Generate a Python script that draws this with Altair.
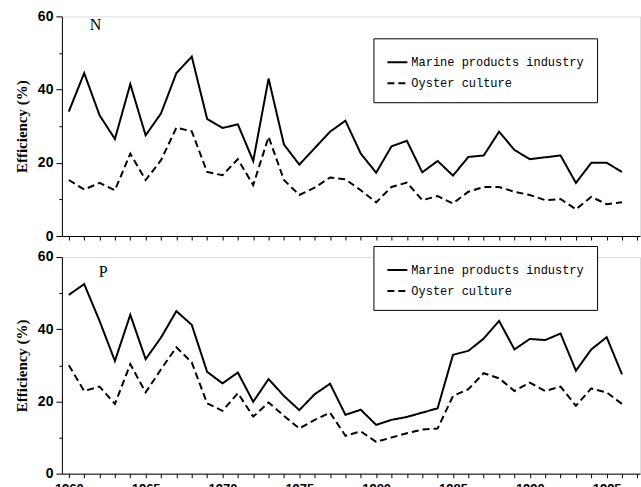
import altair as alt
import pandas as pd

years = list(range(1960, 1997))
series_names = ["Marine products industry", "Oyster culture"]

n_marine = [34, 44.5, 33, 26.5, 41.5, 27.5, 33.5, 44.5, 49, 32, 29.5, 30.5, 20.5, 43, 25, 19.5,
            24, 28.5, 31.5, 22.5, 17.3, 24.5, 26, 17.4, 20.5, 16.5, 21.6, 22, 28.5, 23.5, 21,
            21.5, 22, 14.5, 20, 20, 17.5]
n_oyster = [15.3, 12.7, 14.5, 12.5, 22.5, 15.3, 20.7, 29.6, 28.6, 17.5, 16.6, 21, 13.9, 27.1,
            15.3, 11.2, 13.2, 16, 15.5, 12.5, 9.2, 13.4, 14.6, 9.8, 10.9, 8.9, 12.1, 13.4, 13.4,
            12.1, 11.2, 9.8, 10.1, 7.3, 10.7, 8.7, 9.2]
p_marine = [49.5, 52.5, 42.3, 31.2, 44, 31.7, 37.7, 45, 41.2, 28.2, 25, 28, 19.9, 26.2, 21.5,
            17.6, 22, 24.9, 16.3, 17.7, 13.5, 14.9, 15.7, 16.9, 18.1, 32.9, 34, 37.4, 42.3, 34.4,
            37.3, 37, 38.8, 28.5, 34.4, 37.8, 27.5]
p_oyster = [30, 22.9, 24.1, 19.3, 30.3, 22.5, 28.9, 35, 30.8, 19.5, 17.4, 22.3, 15.8, 19.7, 16,
            12.5, 14.9, 16.9, 10.5, 11.7, 8.8, 10, 11.2, 12.2, 12.5, 21.5, 23.4, 27.8, 26.4, 22.9,
            25.2, 22.9, 24.1, 18.8, 23.6, 22.5, 19.3]

x_tick_values = list(range(1960, 1998))
y_tick_values = [0, 10, 20, 30, 40, 50, 60]


def panel_df(marine, oyster):
    rows = []
    for yr, m, o in zip(years, marine, oyster):
        rows.append({"year": yr, "value": m, "series": series_names[0]})
        rows.append({"year": yr, "value": o, "series": series_names[1]})
    return pd.DataFrame(rows)


def panel(df, label, show_x_labels, height, legend_y, label_x, label_y):
    x_axis = alt.Axis(
        values=x_tick_values,
        labelExpr="datum.value % 5 == 0 ? toString(datum.value) : ''",
        labels=show_x_labels,
        labelOverlap=False,
        labelFlush=False,
        grid=False,
        title=None,
        tickSize=4,
        tickColor="black",
        domainColor="black",
        labelFont="Liberation Sans",
        labelFontSize=13,
        labelFontWeight="bold",
        labelColor="black",
        labelPadding=5,
    )
    y_axis = alt.Axis(
        values=y_tick_values,
        labelExpr="datum.value % 20 == 0 ? toString(datum.value) : ''",
        labelOverlap=False,
        grid=False,
        title="Efficiency (%)",
        titleFont="Liberation Serif",
        titleFontSize=15,
        titleFontWeight="bold",
        titleColor="black",
        titlePadding=8,
        labelFont="Liberation Sans",
        labelFontSize=14,
        labelFontWeight="bold",
        labelColor="black",
        labelPadding=3,
        tickColor="black",
        domainColor="black",
        tickSize={"condition": {"test": "datum.value % 20 == 0", "value": 6}, "value": 3},
    )
    legend = alt.Legend(
        title=None,
        orient="none",
        legendX=312,
        legendY=legend_y,
        direction="vertical",
        padding=13,
        strokeColor="black",
        fillColor="white",
        cornerRadius=0,
        symbolType="stroke",
        symbolSize=400,
        symbolStrokeWidth=2,
        symbolStrokeColor="black",
        labelFont="Liberation Mono",
        labelFontSize=12,
        labelColor="black",
        labelOffset=3,
        rowPadding=4,
        labelLimit=400,
    )
    lines = alt.Chart(df).mark_line(strokeWidth=2, color="black").encode(
        x=alt.X("year:Q", scale=alt.Scale(domain=[1959.55, 1997.17], nice=False, zero=False), axis=x_axis),
        y=alt.Y("value:Q", scale=alt.Scale(domain=[0, 60], nice=False), axis=y_axis),
        strokeDash=alt.StrokeDash(
            "series:N",
            scale=alt.Scale(domain=series_names, range=[[1, 0], [7, 4]]),
            legend=legend,
        ),
    )
    tag = alt.Chart(pd.DataFrame({"label": [label]})).mark_text(
        font="Liberation Serif", fontSize=16, align="left", baseline="alphabetic", color="black"
    ).encode(text="label:N", x=alt.value(label_x), y=alt.value(label_y))
    return alt.layer(lines, tag).properties(width=579, height=height)


top = panel(panel_df(n_marine, n_oyster), "N", False, 220, 22, 28, 13.5)
bottom = panel(panel_df(p_marine, p_oyster), "P", True, 217, -11, 37, 20.5)

chart = alt.vconcat(top, bottom, spacing=1).resolve_legend(
    strokeDash="independent"
).configure_view(stroke=None).configure(
    background="white",
    padding={"left": 13, "top": 8, "right": 0, "bottom": 0},
)

chart.save("out.html", embed_options={"renderer": "svg", "actions": False})
